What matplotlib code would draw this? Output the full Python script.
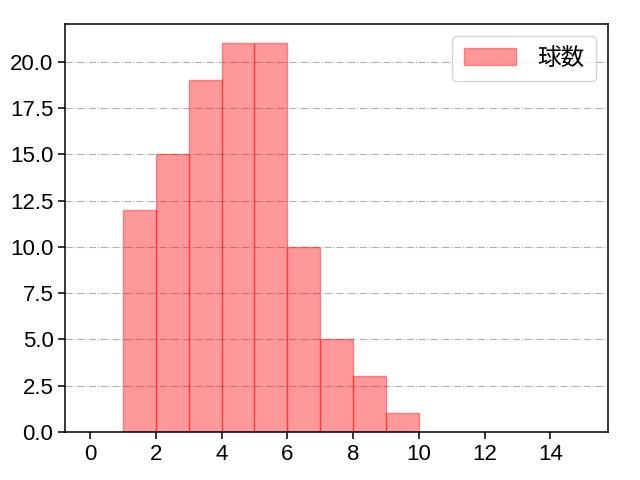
import matplotlib
matplotlib.use("Agg")
import matplotlib.pyplot as plt
import numpy as np

plt.rcParams['font.family'] = ['Liberation Sans', 'Noto Sans CJK JP', 'DejaVu Sans']

bin_edges = [1, 2, 3, 4, 5, 6, 7, 8, 9, 10]
counts = [12, 15, 19, 21, 21, 10, 5, 3, 1]
label = "球数"

fig, ax = plt.subplots(figsize=(6.4, 4.8), dpi=100)
ax.hist(bin_edges[:-1], bins=bin_edges, weights=counts, color='red', alpha=0.4,
        edgecolor='red', linewidth=1, label=label)
ax.set_xlim(-0.75, 15.75)
ax.set_ylim(0, 22.05)
ax.set_xticks([0, 2, 4, 6, 8, 10, 12, 14])
ax.set_yticks(np.arange(0, 22.5, 2.5))
ax.grid(axis='y', linestyle='-.', color='#b0b0b0', linewidth=0.8)
ax.set_axisbelow(True)
for s in ax.spines.values():
    s.set_linewidth(1.1)
ax.tick_params(labelsize=16, width=1.1, length=5)
ax.legend(fontsize=17, loc='upper right', handlelength=2.2, handletextpad=0.9,
          borderpad=0.5)
fig.subplots_adjust(left=0.102, right=0.95, top=0.95, bottom=0.1)
fig.savefig("out.png")
